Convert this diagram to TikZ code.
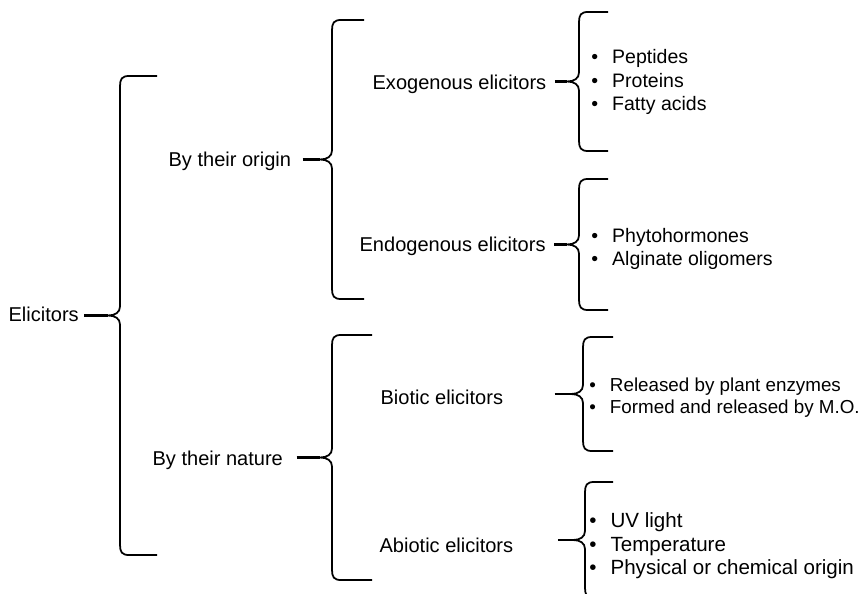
\documentclass[tikz,border=0pt]{standalone}
\usepackage{fontspec}
\setmainfont{Liberation Sans}

% curly bracket opening to the right: tip name, x of the bar, top, bottom, end of the hooks
\newcommand{\curly}[5]{
  \pgfmathsetmacro\cmid{(#3+#4)/2}
  \draw[curl] (#5,#3) -- (#2+9,#3) .. controls (#2+2,#3) and (#2,#3+3) .. (#2,#3+10)
    -- (#2,\cmid-9) .. controls (#2,\cmid-3) and (#2-5,\cmid) .. (#2-12,\cmid)
    .. controls (#2-5,\cmid) and (#2,\cmid+3) .. (#2,\cmid+9)
    -- (#2,#4-10) .. controls (#2,#4-3) and (#2+2,#4) .. (#2+9,#4) -- (#5,#4);
  \coordinate (#1) at (#2-12,\cmid);
}
\newcommand{\itm}{\textbullet\hspace{8pt}}

\begin{document}
\begin{tikzpicture}[x=0.02cm, y=-0.02cm, every node/.style={font=\fontsize{11.4}{13.6}\selectfont},lbl/.style={anchor=west, inner xsep=3pt, inner ysep=0pt, text height=8pt, text depth=0pt},items/.style={anchor=west, align=left, inner sep=0pt, font=\fontsize{11.1}{13.6}\selectfont},curl/.style={line width=1pt},link/.style={line width=1.5pt}]
  \useasboundingbox (0,0) rectangle (861,594);

  \curly{elitip}{120}{76}{555}{157}
  \curly{origtip}{332}{20}{299}{364}
  \curly{nattip}{332}{335}{580}{372}
  \curly{exotip}{579}{12}{151}{608}
  \curly{endotip}{579}{179}{310}{608}
  \curly{biotip}{583}{337}{451}{613}
  \curly{abiotip}{585}{482}{598}{613}

  \node[lbl] (eli) at (3,314) {Elicitors};
  \node[lbl] (orig) at (163,159) {By their origin};
  \node[lbl] (nat) at (147,458) {By their nature};
  \node[lbl] (exo) at (367,82) {Exogenous elicitors};
  \node[lbl] (endo) at (354,244) {Endogenous elicitors};
  \node[lbl] (bio) at (375,397) {Biotic elicitors};
  \node[lbl] (abio) at (374,545) {Abiotic elicitors};

  \node[items] (exolist) at (591,82) {\itm Peptides\\ \itm Proteins\\ \itm Fatty acids};
  \node[items] (endolist) at (591,249) {\itm Phytohormones\\ \itm Alginate oligomers};
  \node[items, font=\fontsize{10.7}{12.6}\selectfont] (biolist) at (589,398) {\itm Released by plant enzymes\\ \itm Formed and released by M.O.};
  \node[items, font=\fontsize{11.7}{13.4}\selectfont] (abiolist) at (589,546) {\itm UV light\\ \itm Temperature\\ \itm Physical or chemical origin};

  \draw[link] (eli.east |- elitip) -- (elitip);
  \draw[link, shorten <=0.12cm] (orig.east |- origtip) -- (origtip);
  \draw[link, shorten <=0.16cm] (nat.east |- nattip) -- (nattip);
  \draw[link, shorten <=0.06cm] (exo.east |- exotip) -- (exotip);
  \draw[link, shorten <=0.06cm] (endo.east |- endotip) -- (endotip);
  \draw[link, shorten <=0.92cm] (bio.east |- biotip) -- (biotip);
  \draw[link, shorten <=0.78cm] (abio.east |- abiotip) -- (abiotip);
\end{tikzpicture}
\end{document}
